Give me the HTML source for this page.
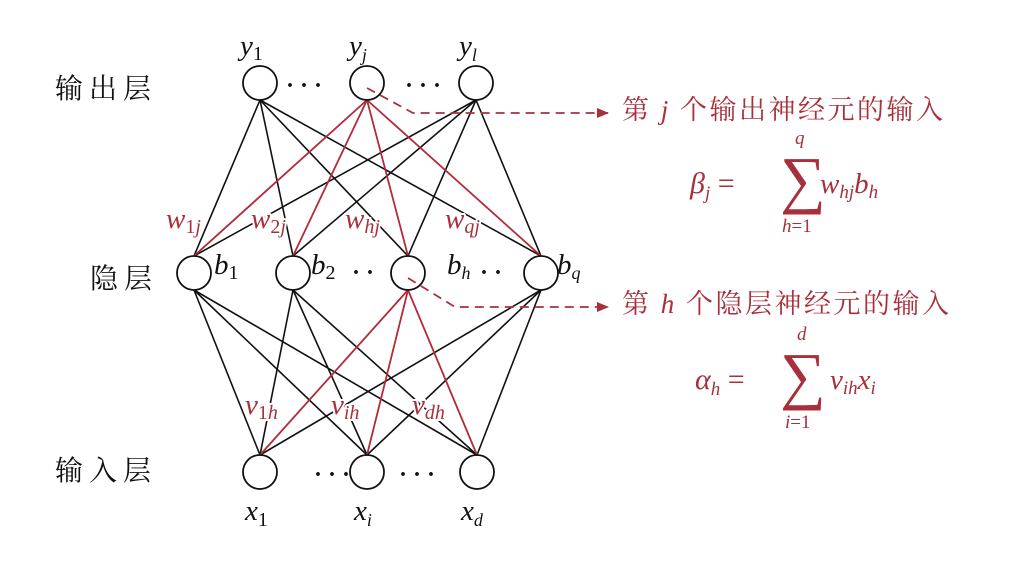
<!DOCTYPE html>
<html><head><meta charset="utf-8"><style>
html,body{margin:0;padding:0;background:#fff;}
svg{display:block;}
.m{font-family:"Liberation Serif",serif;font-style:italic;}
.c{font-family:"Liberation Serif","Noto Serif CJK SC",serif;}
</style></head><body>
<svg width="1020" height="568" viewBox="0 0 1020 568" xmlns="http://www.w3.org/2000/svg">
<defs><marker id="ar" markerWidth="12" markerHeight="10" refX="11" refY="5" orient="auto" markerUnits="userSpaceOnUse"><path d="M0,0 L12,5 L0,10 Z" fill="#a8303c"/></marker></defs>
<g stroke="#111" stroke-width="1.6" fill="none">
<line x1="260" y1="100" x2="194" y2="256"/><line x1="260" y1="100" x2="293" y2="256"/><line x1="260" y1="100" x2="408" y2="256"/><line x1="260" y1="100" x2="541" y2="256"/>
<line x1="476" y1="100" x2="194" y2="256"/><line x1="476" y1="100" x2="293" y2="256"/><line x1="476" y1="100" x2="408" y2="256"/><line x1="476" y1="100" x2="541" y2="256"/>
<line x1="194" y1="290" x2="260" y2="455"/><line x1="194" y1="290" x2="367" y2="455"/><line x1="194" y1="290" x2="477" y2="455"/>
<line x1="293" y1="290" x2="260" y2="455"/><line x1="293" y1="290" x2="367" y2="455"/><line x1="293" y1="290" x2="477" y2="455"/>
<line x1="541" y1="290" x2="260" y2="455"/><line x1="541" y1="290" x2="367" y2="455"/><line x1="541" y1="290" x2="477" y2="455"/>
</g>
<g stroke="#b32a3c" stroke-width="1.8" fill="none">
<line x1="367" y1="100" x2="194" y2="256"/><line x1="367" y1="100" x2="293" y2="256"/><line x1="367" y1="100" x2="408" y2="256"/><line x1="367" y1="100" x2="541" y2="256"/>
<line x1="408" y1="290" x2="260" y2="455"/><line x1="408" y1="290" x2="367" y2="455"/><line x1="408" y1="290" x2="477" y2="455"/>
</g>
<g stroke="#111" stroke-width="1.8" fill="#fff">
<circle cx="260" cy="83" r="17"/><circle cx="367" cy="83" r="17"/><circle cx="476" cy="83" r="17"/>
<circle cx="194" cy="273" r="17"/><circle cx="293" cy="273" r="17"/><circle cx="408" cy="273" r="17"/><circle cx="541" cy="273" r="17"/>
<circle cx="260" cy="472" r="17"/><circle cx="367" cy="472" r="17"/><circle cx="477" cy="472" r="17"/>
</g>
<g stroke="#a8303c" stroke-width="1.8" fill="none" stroke-dasharray="9,6">
<polyline points="367,88 413,113 608,113" marker-end="url(#ar)"/>
<polyline points="408,278 455,307 608,307" marker-end="url(#ar)"/>
</g>
<g fill="#111" font-size="29">
<text class="c" x="55" y="98" font-size="28" letter-spacing="6">输出层</text>
<text class="c" x="90" y="288" font-size="28" letter-spacing="6">隐层</text>
<text class="c" x="55" y="480" font-size="28" letter-spacing="6">输入层</text>
<text class="m" x="240" y="55">y<tspan font-style="normal" font-size="20" dy="5">1</tspan></text>
<text class="m" x="349" y="55">y<tspan font-size="18" dy="6">j</tspan></text>
<text class="m" x="459" y="55">y<tspan font-size="18" dy="6">l</tspan></text>
<text x="286" y="93" font-size="24" font-weight="bold">· · ·</text><text x="405" y="93" font-size="24" font-weight="bold">· · ·</text>
<text x="314" y="482" font-size="24" font-weight="bold">· · ·</text><text x="399" y="482" font-size="24" font-weight="bold">· · ·</text>
<text x="352" y="280" font-size="24" font-weight="bold">· ·</text><text x="480" y="280" font-size="24" font-weight="bold">· ·</text>
<text class="m" x="214" y="274">b<tspan font-style="normal" font-size="20" dy="5">1</tspan></text>
<text class="m" x="311" y="274">b<tspan font-style="normal" font-size="20" dy="5">2</tspan></text>
<text class="m" x="447" y="274">b<tspan font-size="18" dy="5">h</tspan></text>
<text class="m" x="557" y="274">b<tspan font-size="18" dy="5">q</tspan></text>
<text class="m" x="245" y="520">x<tspan font-style="normal" font-size="20" dy="6">1</tspan></text>
<text class="m" x="354" y="520">x<tspan font-size="18" dy="6">i</tspan></text>
<text class="m" x="461" y="520">x<tspan font-size="18" dy="6">d</tspan></text>
</g>
<g fill="#a8303c" font-size="29" stroke="#fff" stroke-width="4" paint-order="stroke">
<text class="m" x="166" y="228">w<tspan font-style="normal" font-size="20" dy="5">1</tspan><tspan font-size="20">j</tspan></text>
<text class="m" x="251" y="228">w<tspan font-style="normal" font-size="20" dy="5">2</tspan><tspan font-size="20">j</tspan></text>
<text class="m" x="345" y="228">w<tspan font-size="20" dy="5">hj</tspan></text>
<text class="m" x="445" y="228">w<tspan font-size="20" dy="5">qj</tspan></text>
<text class="m" x="245" y="414">v<tspan font-style="normal" font-size="20" dy="5">1</tspan><tspan font-size="20">h</tspan></text>
<text class="m" x="331" y="414">v<tspan font-size="20" dy="5">ih</tspan></text>
<text class="m" x="412" y="414">v<tspan font-size="20" dy="5">dh</tspan></text>
</g>
<g fill="#a8303c" font-size="27">
<text class="c" x="622" y="119" letter-spacing="2.5">第 <tspan class="m">j</tspan> 个输出神经元的输入</text>
<text class="m" x="690" y="193" font-size="30">β<tspan font-size="19" dy="6">j</tspan><tspan font-style="normal" dy="-6"> =</tspan></text>
<text x="780" y="201" font-size="64" class="c">∑</text>
<text class="m" x="795" y="144" font-size="19">q</text>
<text class="m" x="782" y="232" font-size="19">h<tspan font-style="normal">=1</tspan></text>
<text class="m" x="820" y="193" font-size="29">w<tspan font-size="19" dy="5">hj</tspan><tspan dy="-5">b</tspan><tspan font-size="19" dy="5">h</tspan></text>
<text class="c" x="622" y="313" letter-spacing="2.5">第 <tspan class="m">h</tspan> 个隐层神经元的输入</text>
<text class="m" x="695" y="389" font-size="30">α<tspan font-size="19" dy="6">h</tspan><tspan font-style="normal" dy="-6"> =</tspan></text>
<text x="780" y="397" font-size="64" class="c">∑</text>
<text class="m" x="797" y="340" font-size="19">d</text>
<text class="m" x="785" y="428" font-size="19">i<tspan font-style="normal">=1</tspan></text>
<text class="m" x="830" y="389" font-size="29">v<tspan font-size="19" dy="5">ih</tspan><tspan dy="-5">x</tspan><tspan font-size="19" dy="5">i</tspan></text>
</g>
</svg>
</body></html>
